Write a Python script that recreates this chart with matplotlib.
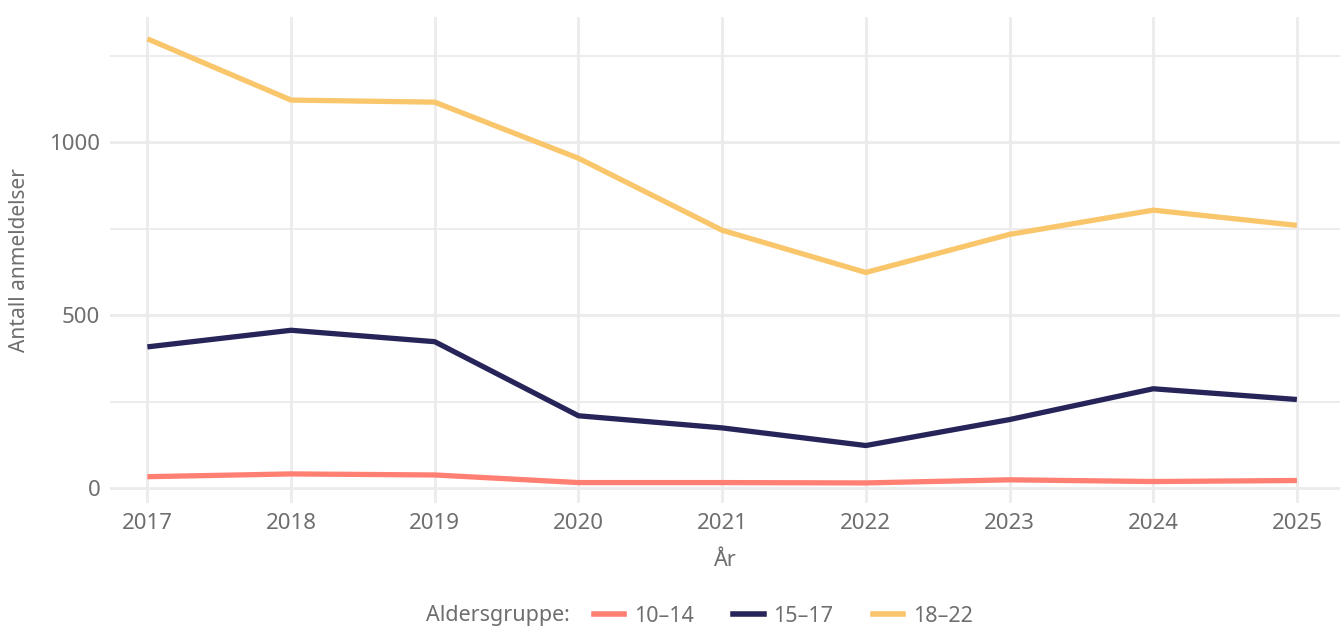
import matplotlib
matplotlib.use('Agg')
import matplotlib.pyplot as plt
from matplotlib.lines import Line2D

years = [2017, 2018, 2019, 2020, 2021, 2022, 2023, 2024, 2025]
age_10_14 = [34, 42, 39, 17, 17, 16, 25, 20, 23]
age_15_17 = [409, 457, 424, 210, 175, 124, 199, 288, 257]
age_18_22 = [1299, 1122, 1116, 954, 746, 624, 734, 804, 760]
groups = ['10–14', '15–17', '18–22']
colors = ['#FF8073', '#27245A', '#F9C66B']
y_ticks = [0, 500, 1000]
y_minor = [250, 750, 1250]

plt.rcParams['font.family'] = ['Noto Sans', 'DejaVu Sans']
text_col = '#6E6E6E'
grid_col = '#EBEBEB'

fig = plt.figure(figsize=(13.43, 6.28), dpi=100)
ax = fig.add_axes([110 / 1343, 125 / 628, 1230 / 1343, 486 / 628])

for vals, c, lab in zip([age_10_14, age_15_17, age_18_22], colors, groups):
    ax.plot(years, vals, color=c, lw=3.8, label=lab, solid_capstyle='butt', zorder=3)

ax.set_xlim(2017 - 0.26, 2025 + 0.3)
ax.set_ylim(-42, 1362)
ax.set_xticks(years)
ax.set_yticks(y_ticks)
ax.set_yticks(y_minor, minor=True)
ax.grid(which='major', color=grid_col, lw=2.0, zorder=0)
ax.grid(which='minor', axis='y', color=grid_col, lw=1.3, zorder=0)
ax.set_axisbelow(True)
for s in ax.spines.values():
    s.set_visible(False)
ax.tick_params(which='both', length=0, labelsize=16, colors=text_col, pad=7)
ax.tick_params(axis='y', pad=7)
ax.set_xlabel('År', fontsize=15.5, color=text_col, labelpad=12)
ax.set_ylabel('Antall anmeldelser', fontsize=15, color=text_col, labelpad=14)

handles = [Line2D([], [], color=c, lw=4) for c in colors]
fig.text(426 / 1343, 12 / 628, 'Aldersgruppe:', fontsize=15.5, color=text_col, va='center', ha='left')
leg = fig.legend(handles, groups, loc='center left', bbox_to_anchor=(594 / 1343, 12 / 628),
                 ncol=3, frameon=False, fontsize=15.5, handlelength=1.4, handletextpad=0.45,
                 columnspacing=1.85, borderpad=0, borderaxespad=0)
for t in leg.get_texts():
    t.set_color(text_col)

fig.savefig('out.png', dpi=100, facecolor='white')
